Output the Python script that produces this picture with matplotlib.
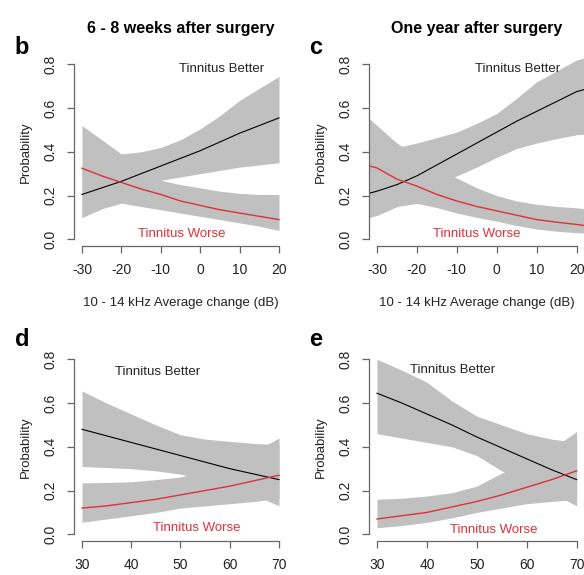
import numpy as np
import matplotlib
matplotlib.use("Agg")
import matplotlib.pyplot as plt

plt.rcParams['font.family'] = ['Liberation Sans', 'DejaVu Sans']
plt.rcParams['axes.unicode_minus'] = False

W, H = 584, 575

# panel b: 6-8 weeks, 10-14 kHz change
x_b = [-30, -25, -20, -15, -10, -5, 0, 5, 10, 15, 20]
better_b = [.205, .235, .265, .30, .335, .37, .405, .445, .485, .52, .555]
better_b_hi = [.33, .36, .39, .40, .42, .455, .505, .565, .635, .69, .745]
better_b_lo = [.10, .14, .17, .22, .27, .285, .30, .315, .33, .34, .35]
worse_b = [.325, .29, .26, .23, .205, .175, .155, .135, .12, .105, .09]
worse_b_hi = [.52, .455, .39, .32, .27, .25, .235, .22, .21, .205, .205]
worse_b_lo = [.10, .14, .165, .15, .135, .12, .105, .09, .075, .06, .04]

# panel c: one year, 10-14 kHz change
x_c = [-32, -30, -25, -20, -15, -10, -5, 0, 5, 10, 15, 20, 22]
better_c = [.21, .22, .25, .29, .34, .39, .44, .49, .54, .585, .63, .675, .685]
better_c_hi = [.36, .37, .42, .44, .465, .49, .53, .575, .645, .72, .77, .82, .83]
better_c_lo = [.10, .11, .15, .20, .25, .29, .33, .375, .415, .44, .46, .478, .48]
worse_c = [.336, .326, .275, .243, .205, .175, .15, .13, .11, .09, .078, .068, .063]
worse_c_hi = [.553, .52, .44, .38, .32, .28, .235, .20, .175, .16, .15, .144, .14]
worse_c_lo = [.10, .11, .15, .164, .145, .12, .10, .083, .063, .047, .037, .03, .028]

# panel d: 6-8 weeks, baseline threshold
x_d = [30, 35, 40, 45, 50, 55, 60, 65, 70]
better_d = [.48, .45, .42, .39, .36, .33, .30, .275, .25]
better_d_hi = [.655, .60, .55, .50, .455, .435, .425, .415, .41]
better_d_lo = [.31, .305, .30, .29, .275, .25, .215, .18, .13]
worse_d = [.12, .13, .145, .16, .18, .20, .22, .245, .27]
worse_d_hi = [.235, .237, .24, .25, .262, .29, .33, .38, .44]
worse_d_lo = [.055, .07, .085, .10, .12, .13, .14, .15, .165]

# panel e: one year, baseline threshold
x_e = [30, 35, 40, 45, 50, 55, 60, 65, 70]
better_e = [.645, .60, .55, .50, .445, .395, .345, .295, .25]
better_e_hi = [.80, .75, .695, .61, .54, .50, .46, .435, .42]
better_e_lo = [.46, .44, .42, .40, .36, .29, .24, .19, .13]
worse_e = [.07, .085, .10, .125, .15, .18, .215, .25, .29]
worse_e_hi = [.16, .165, .175, .19, .22, .28, .33, .39, .47]
worse_e_lo = [.03, .04, .055, .075, .10, .12, .14, .15, .16]

titles = ["6 - 8 weeks after surgery", "One year after surgery"]
xlab = "10 - 14 kHz Average change (dB)"

grey = '#c0c0c0'
red = '#e0303a'
axcol = '#666666'

fig = plt.figure(figsize=(W / 100, H / 100), dpi=100)


def px_axes(left, top, right, bottom):
    return fig.add_axes([left / W, 1 - bottom / H, (right - left) / W, (bottom - top) / H])


def panel(ax, x, b, b_hi, b_lo, r, r_hi, r_lo, xlim, xticks, better_xy, worse_xy):
    ax.fill_between(x, b_lo, b_hi, color=grey, lw=0)
    ax.fill_between(x, r_lo, r_hi, color=grey, lw=0)
    ax.plot(x, b, color='black', lw=0.8)
    ax.plot(x, r, color=red, lw=1.0)
    ax.set_xlim(*xlim)
    ax.set_ylim(-0.032, 0.832)
    for s in ['top', 'right']:
        ax.spines[s].set_visible(False)
    ax.spines['left'].set_bounds(0, 0.8)
    ax.spines['bottom'].set_bounds(xticks[0], xticks[-1])
    for s in ['left', 'bottom']:
        ax.spines[s].set_color(axcol)
        ax.spines[s].set_linewidth(0.9)
    ax.set_xticks(xticks)
    ax.set_yticks([0, 0.2, 0.4, 0.6, 0.8])
    ax.set_yticklabels(['0.0', '0.2', '0.4', '0.6', '0.8'], rotation=90, va='center')
    ax.tick_params(direction='out', length=5, width=0.9, color=axcol,
                   labelsize=10, pad=7, labelcolor='#222222')
    ax.set_ylabel("Probability", fontsize=9.5, labelpad=8, color='#222222')
    ax.patch.set_alpha(0)
    ax.text(better_xy[0], better_xy[1], "Tinnitus Better", fontsize=9.5,
            ha='center', va='center', color='#222222')
    ax.text(worse_xy[0], worse_xy[1], "Tinnitus Worse", fontsize=9.5,
            ha='center', va='center', color=red)


ax_b = px_axes(74.1, 57.3, 286.9, 246.3)
panel(ax_b, x_b, better_b, better_b_hi, better_b_lo, worse_b, worse_b_hi, worse_b_lo,
      (-32, 22), [-30, -20, -10, 0, 10, 20], (5.5, 0.78), (-4.6, 0.025))
ax_c = px_axes(369, 57.3, 584.6, 246.3)
panel(ax_c, x_c, better_c, better_c_hi, better_c_lo, worse_c, worse_c_hi, worse_c_lo,
      (-32, 22), [-30, -20, -10, 0, 10, 20], (5.2, 0.78), (-5.0, 0.025))
ax_d = px_axes(74.1, 352.3, 286.9, 541.3)
panel(ax_d, x_d, better_d, better_d_hi, better_d_lo, worse_d, worse_d_hi, worse_d_lo,
      (28.4, 71.6), [30, 40, 50, 60, 70], (45.4, 0.74), (53.4, 0.03))
ax_e = px_axes(369, 352.3, 584.6, 541.3)
panel(ax_e, x_e, better_e, better_e_hi, better_e_lo, worse_e, worse_e_hi, worse_e_lo,
      (28.4, 71.6), [30, 40, 50, 60, 70], (45.1, 0.75), (53.3, 0.02))


def ftext(x, y, s, **kw):
    fig.text(x / W, 1 - y / H, s, **kw)


ftext(180.5, 29, titles[0], fontsize=11.5, fontweight='bold', ha='center', va='center')
ftext(476.8, 29, titles[1], fontsize=11.5, fontweight='bold', ha='center', va='center')
ftext(180.5, 303, xlab, fontsize=9.5, ha='center', va='center', color='#222222')
ftext(476.8, 303, xlab, fontsize=9.5, ha='center', va='center', color='#222222')
for lab, (x, y) in zip("bcde", [(22, 47), (316, 47), (22, 340), (316, 340)]):
    ftext(x, y, lab, fontsize=17, fontweight='bold', ha='center', va='center')

fig.savefig("out.png", dpi=100)
